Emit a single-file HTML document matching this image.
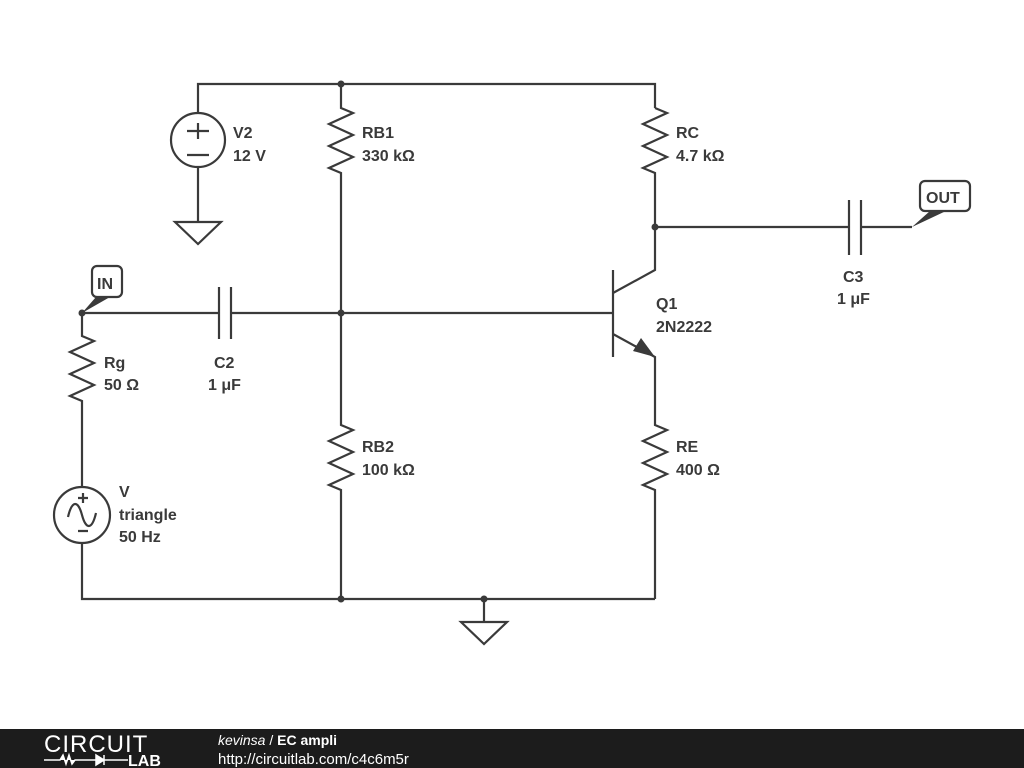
<!DOCTYPE html>
<html><head><meta charset="utf-8"><style>
html,body{margin:0;padding:0;background:#fff;width:1024px;height:768px;overflow:hidden}
svg text{font-family:"Liberation Sans",sans-serif;font-weight:bold;font-size:16px;fill:#3a3a3a}
</style></head><body>
<svg width="1024" height="768" viewBox="0 0 1024 768" xmlns="http://www.w3.org/2000/svg">
<g stroke="#3a3a3a" stroke-width="2.2" fill="none" stroke-linejoin="miter">
<path d="M198,113 V84 H655 V108"/>
<circle cx="198" cy="140" r="27"/>
<path d="M187,131 H209 M198,123 V139 M187,155 H209"/>
<path d="M198,167 V222 M175,222 H221 L198,244 Z"/>
<path d="M341,84 V108 L353,113 L329,124 L353,135 L329,146 L353,157 L329,168 L341,173 V425 L353,430 L329,441 L353,452 L329,463 L353,474 L329,485 L341,490 V599"/>
<path d="M655,108 L667,113 L643,124 L667,135 L643,146 L667,157 L643,168 L655,173 V270 L613,293"/>
<path d="M613,270 V357 M341,313 H613 M613,334 L655,357 V425 L667,430 L643,441 L667,452 L643,463 L667,474 L643,485 L655,490 V599"/>
<path d="M82,543 V599 H655 M484,599 V622 M461,622 H507 L484,644 Z"/>
<path d="M82,313 V336 L94,341 L70,352 L94,363 L70,374 L94,385 L70,396 L82,401 V487"/>
<circle cx="82" cy="515" r="28"/>
<path d="M78,498 H88 M83,493 V503 M78,531 H88"/>
<path d="M68,517 C72,500 78,500 82,515 C86,530 92,530 96,513"/>
<path d="M82,313 H219 M219,287 V339 M231,287 V339 M231,313 H341"/>
<path d="M655,227 H849 M849,200 V255 M861,200 V255 M861,227 H912"/>
<rect x="920" y="181" width="50" height="30" rx="5" fill="#fff"/>
<rect x="92" y="266" width="30" height="31" rx="5" fill="#fff"/>
</g>
<g fill="#3a3a3a">
<path d="M912,227 L930,211 L946,211 Z"/>
<path d="M82,313 L96,297 L110,297 Z"/>
<path d="M655,357 L633,351 L641,338 Z"/>
<circle cx="341" cy="84" r="3.5"/><circle cx="341" cy="313" r="3.5"/>
<circle cx="655" cy="227" r="3.5"/><circle cx="341" cy="599" r="3.5"/>
<circle cx="484" cy="599" r="3.5"/><circle cx="82" cy="313" r="3.5"/>
</g>
<text x="233" y="138">V2</text><text x="233" y="161">12 V</text>
<text x="362" y="138">RB1</text><text x="362" y="161">330 kΩ</text>
<text x="676" y="138">RC</text><text x="676" y="161">4.7 kΩ</text>
<text x="926" y="203">OUT</text>
<text x="97" y="289">IN</text>
<text x="656" y="309">Q1</text><text x="656" y="332">2N2222</text>
<text x="843" y="282">C3</text><text x="837" y="304">1 μF</text>
<text x="104" y="368">Rg</text><text x="104" y="390">50 Ω</text>
<text x="214" y="368">C2</text><text x="208" y="390">1 μF</text>
<text x="362" y="452">RB2</text><text x="362" y="475">100 kΩ</text>
<text x="676" y="452">RE</text><text x="676" y="475">400 Ω</text>
<text x="119" y="497">V</text><text x="119" y="520">triangle</text><text x="119" y="542">50 Hz</text>
<rect x="0" y="729" width="1024" height="39" fill="#1c1c1c"/>
<text x="44" y="752" style="font-weight:normal;font-size:24px;fill:#fff;letter-spacing:1px;stroke:none">CIRCUIT</text>
<path d="M44,760 H60 L63,755 L66,764 L69,755 L72,764 L75,760 H96 M96,755 L104,760 L96,765 Z M104,755 V765 M104,760 H128" stroke="#fff" stroke-width="1.5" fill="#fff"/>
<text x="128" y="766" style="font-size:16px;fill:#fff">LAB</text>
<text x="218" y="745" style="fill:#fff;font-size:14px"><tspan style="font-style:italic;font-weight:normal">kevinsa</tspan><tspan style="font-weight:normal"> / </tspan>EC ampli</text>
<text x="218" y="764" style="fill:#fff;font-size:15px;font-weight:normal">http://circuitlab.com/c4c6m5r</text>
</svg>
</body></html>
